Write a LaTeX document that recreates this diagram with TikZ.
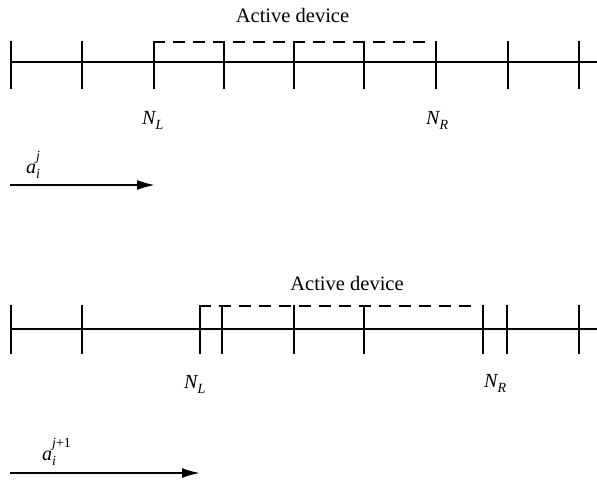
\documentclass[tikz,border=0pt]{standalone}
\usepackage{fontspec}
\setmainfont{Liberation Serif}
\usetikzlibrary{arrows.meta}
\newcommand\lowtxt[1]{\raisebox{-0.28em}{\fontsize{14}{16}\selectfont #1}}
\newcommand\hightxt[1]{\raisebox{0.62em}{\fontsize{14}{16}\selectfont #1}}
\newcommand\subsup[2]{\makebox[0pt][l]{\hightxt{#2}}\lowtxt{#1}}
\begin{document}
\begin{tikzpicture}[x=1pt,y=-1pt,
  axis/.style={line width=2.2pt},
  tick/.style={line width=2.2pt},
  active/.style={line width=2.2pt, dash pattern=on 12pt off 8pt},
  lbl/.style={font=\fontsize{20}{22}\selectfont\itshape, inner sep=0pt, anchor=base west},
  ttl/.style={font=\fontsize{20.5}{24}\selectfont, inner sep=0pt, anchor=base},
  flow/.style={line width=2pt, -{Latex[length=18pt,width=10pt]}}]
\useasboundingbox (0,0) rectangle (597,483);

% ---------- top ----------
\coordinate (tL) at (10,62); \coordinate (tR) at (597,62);
\draw[axis] (tL) -- (tR);
\foreach \x/\n in {11/1,82/2,154/3,224/4,294/5,364/6,436/7,508/8,579/9} {
  \coordinate (t\n a) at (\x,41); \coordinate (t\n b) at (\x,89);
  \draw[tick] (t\n a) -- (t\n b);
}
\coordinate (tdS) at (152.9,42.1);
\coordinate (tdE) at (428,42.1);
\draw[active] (tdS) -- (tdE);
\node[ttl] (tact) at (292.5,22) {Active device};
\node[lbl] (tNL) at (142,124) {N\lowtxt{L}};
\node[lbl] (tNR) at (426,124) {N\lowtxt{R}};
\node[lbl] (ta) at (26,173) {a\subsup{i}{j}};
\coordinate (taS) at (10,185); \coordinate (taE) at (155,185);
\draw[flow] (taS) -- (taE);

% ---------- bottom ----------
\coordinate (bL) at (10,329); \coordinate (bR) at (597,329);
\draw[axis] (bL) -- (bR);
\foreach \x/\n in {11/1,82/2,200/3,222/4,294/5,364/6,483/7,507/8,579/9} {
  \coordinate (b\n a) at (\x,305); \coordinate (b\n b) at (\x,354);
  \draw[tick] (b\n a) -- (b\n b);
}
\coordinate (bdS) at (198.9,306.1);
\coordinate (bdE) at (475,306.1);
\draw[active] (bdS) -- (bdE);
\node[ttl] (bact) at (347,290) {Active device};
\node[lbl] (bNL) at (184,388) {N\lowtxt{L}};
\node[lbl] (bNR) at (484,387) {N\lowtxt{R}};
\node[lbl] (ba) at (42,460) {a\subsup{i}{j\upshape+1}};
\coordinate (baS) at (10,473); \coordinate (baE) at (200,473);
\draw[flow] (baS) -- (baE);
\end{tikzpicture}
\end{document}
